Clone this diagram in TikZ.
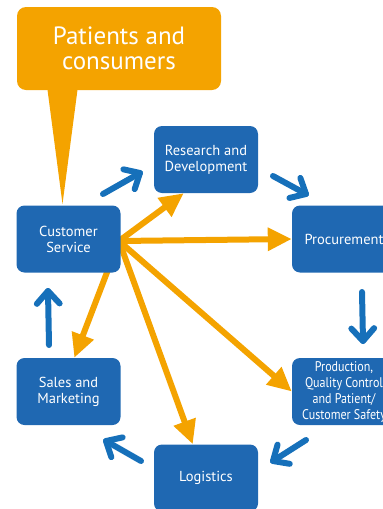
\documentclass[tikz,border=0pt]{standalone}
\usepackage{fontspec}
\setmainfont{PT Sans}
\usetikzlibrary{arrows.meta,calc,backgrounds}
\definecolor{boxblue}{HTML}{1F68B2}
\definecolor{arrblue}{HTML}{1670BA}
\definecolor{orng}{HTML}{F4A300}
\newcommand{\bluearrow}[2]{%
  \draw[barrow] (#1) -- (#2);
  \draw[barrow] ($(#2)!17pt!42:(#1)$) -- (#2) -- ($(#2)!17pt!-42:(#1)$);}
\begin{document}
\begin{tikzpicture}[x=1pt,y=-1pt,
  box/.style={fill=boxblue, rounded corners=8pt, text=white, align=center,
    minimum width=104pt, minimum height=67pt, inner sep=0pt,
    font=\fontsize{14.5}{16}\selectfont},
  oarrow/.style={orng, line width=6pt, -{Triangle[length=24pt,width=22pt]}},
  barrow/.style={arrblue, line width=6pt, line cap=round, line join=round}]
\useasboundingbox (0,0) rectangle (383,509);

% speech bubble
\fill[orng] (47,86) -- (78,86) -- (62.5,204) -- cycle;
\node[fill=orng, rounded corners=9pt, minimum width=204pt, minimum height=83pt,
  inner sep=0pt, text=white, align=center, font=\fontsize{25}{24.5}\selectfont]
  (pc) at (119,48.5) {Patients and\\consumers};

% boxes
\node[box] (rd) at (206,159.5) {Research and\\Development};
\node[box] (cs) at (68.5,239) {Customer\\Service};
\node[box] (pr) at (344,239) {Procurement};
\node[box, font=\fontsize{14}{16}\selectfont] (pq) at (344,391.5)
  {\scalebox{0.86}[1]{Production,}\\\scalebox{0.86}[1]{Quality Control}\\\scalebox{0.86}[1]{and Patient/}\\\scalebox{0.86}[1]{Customer Safety}};
\node[box] (sm) at (68.5,391.5) {Sales and\\Marketing};
\node[box] (lg) at (206,478) {Logistics};

% orange arrows
\begin{scope}[on background layer]
\coordinate (o) at (119,241);
\draw[oarrow] (o) -- ($(rd.south west)+(30,0)$);
\draw[oarrow] (o) -- (pr.west);
\draw[oarrow] (o) -- (pq.west);
\draw[oarrow] (o) -- ($(lg.north west)+(39,0)$);
\draw[oarrow] (o) -- ($(sm.north west)+(58,0)$);
\end{scope}

% blue arrows
\coordinate (b1s) at (103,194); \coordinate (b1e) at (140,173);
\coordinate (b2s) at (273,176); \coordinate (b2e) at (306,194);
\coordinate (b3s) at (362,292); \coordinate (b3e) at (363,341);
\coordinate (b4s) at (306,440); \coordinate (b4e) at (273,461);
\coordinate (b5s) at (141,461); \coordinate (b5e) at (106,441);
\coordinate (b6s) at (49,345);  \coordinate (b6e) at (48,291);
\bluearrow{b1s}{b1e}
\bluearrow{b2s}{b2e}
\bluearrow{b3s}{b3e}
\bluearrow{b4s}{b4e}
\bluearrow{b5s}{b5e}
\bluearrow{b6s}{b6e}
\end{tikzpicture}
\end{document}
